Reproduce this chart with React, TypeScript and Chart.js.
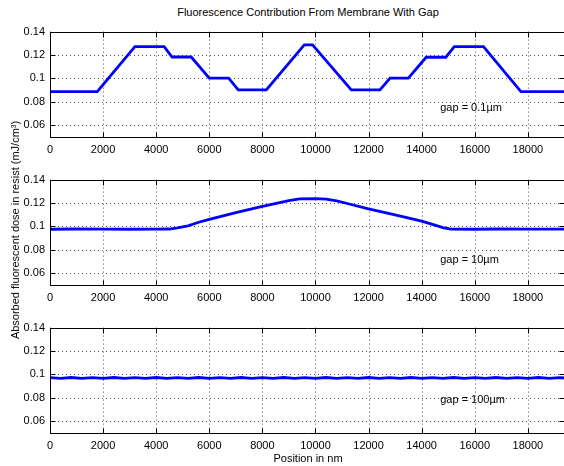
import React, { useEffect, useRef } from "react";
import { Chart, registerables } from "chart.js";

Chart.register(...registerables);

// ---------- data ----------
const xTicks = [0, 2000, 4000, 6000, 8000, 10000, 12000, 14000, 16000, 18000];
const xTickLabels = ["0", "2000", "4000", "6000", "8000", "10000", "12000", "14000", "16000", "18000"];
const yTicks = [0.06, 0.08, 0.1, 0.12, 0.14];
const yTickLabels = ["0.06", "0.08", "0.1", "0.12", "0.14"];

const X_MIN = 0;
const X_MAX = 19400;
const Y_MIN = 0.05;
const Y_MAX = 0.14;

// gap = 0.1 µm
const gap01X = [0, 1780, 3200, 4300, 4600, 5320, 6000, 6730, 7090, 8150, 9580, 9890, 11350, 12430, 12810, 13500, 14170, 14910, 15230, 16330, 17740, 19400];
const gap01Y = [0.0887, 0.0887, 0.1271, 0.1271, 0.1183, 0.1183, 0.1003, 0.1003, 0.0902, 0.0902, 0.1287, 0.1287, 0.0902, 0.0902, 0.1003, 0.1003, 0.1181, 0.1181, 0.1271, 0.1271, 0.0887, 0.0887];

// gap = 10 µm
const gap10X = [0, 1000, 2000, 3000, 4000, 4500, 4800, 5200, 5600, 6000, 7000, 8000, 9000, 9400, 10000, 10400, 10800, 11200, 12000, 13000, 14000, 14500, 14800, 15100, 16000, 17000, 18000, 19400];
const gap10Y = [0.0976, 0.0978, 0.0977, 0.0976, 0.0977, 0.0978, 0.0987, 0.1005, 0.1036, 0.1060, 0.1118, 0.1171, 0.1220, 0.1236, 0.1237, 0.1234, 0.1218, 0.1196, 0.1150, 0.1098, 0.1046, 0.1012, 0.0990, 0.0977, 0.0976, 0.0978, 0.0977, 0.0977];

// gap = 100 µm
const gap100X = [0, 400, 800, 1200, 1600, 2000, 2400, 2800, 3200, 3600, 4000, 4400, 4800, 5200, 5600, 6000, 6400, 6800, 7200, 7600, 8000, 8400, 8800, 9200, 9600, 10000, 10400, 10800, 11200, 11600, 12000, 12400, 12800, 13200, 13600, 14000, 14400, 14800, 15200, 15600, 16000, 16400, 16800, 17200, 17600, 18000, 18400, 18800, 19200, 19600];
const gap100Y = [0.0973, 0.0966, 0.0974, 0.0966, 0.0973, 0.0966, 0.0974, 0.0966, 0.0973, 0.0966, 0.0974, 0.0966, 0.0973, 0.0966, 0.0974, 0.0966, 0.0973, 0.0966, 0.0974, 0.0966, 0.0973, 0.0966, 0.0974, 0.0966, 0.0973, 0.0966, 0.0974, 0.0966, 0.0973, 0.0966, 0.0974, 0.0966, 0.0973, 0.0966, 0.0974, 0.0966, 0.0973, 0.0966, 0.0974, 0.0966, 0.0973, 0.0966, 0.0974, 0.0966, 0.0973, 0.0966, 0.0974, 0.0966, 0.0973, 0.0966];

const panelLabels = ["gap = 0.1\u00b5m", "gap = 10\u00b5m", "gap = 100\u00b5m"];
const panelLabelX = [14700, 14700, 14700];
const panelLabelY = [0.0752, 0.0717, 0.0785];

const titleText = "Fluorescence Contribution From Membrane With Gap";
const xAxisTitle = "Position in nm";
const yAxisTitle = "Absorbed fluorescent dose in resist (mJ/cm\u00b3)";

// ---------- layout ----------
const FONT = "'Liberation Sans', Arial, Helvetica, sans-serif";
const CANVAS_W = 600;
const CANVAS_H = 150;
const PAD_TOP = 6;
const AREA_H = 111;
const AREA_RIGHT = 565;
const Y_AXIS_W = 50;
const panelTops = [26, 174, 322];

const axesPlugin = {
  id: "matlabAxes",
  beforeDatasetsDraw(chart: any) {
    const { ctx, chartArea: a, scales } = chart;
    const xs = scales.x;
    const ys = scales.y;
    ctx.save();
    ctx.strokeStyle = "#555";
    ctx.lineWidth = 1;
    ctx.setLineDash([1, 3]);
    for (const v of xTicks) {
      const px = Math.round(xs.getPixelForValue(v)) + 0.5;
      ctx.beginPath();
      ctx.moveTo(px, a.top);
      ctx.lineTo(px, a.bottom);
      ctx.stroke();
    }
    for (const v of yTicks) {
      const py = Math.round(ys.getPixelForValue(v)) + 0.5;
      ctx.beginPath();
      ctx.moveTo(a.left, py);
      ctx.lineTo(a.right, py);
      ctx.stroke();
    }
    ctx.restore();
  },
  afterDatasetsDraw(chart: any) {
    const { ctx, chartArea: a, scales } = chart;
    const xs = scales.x;
    const ys = scales.y;
    const L = Math.round(a.left) + 0.5;
    const R = Math.round(a.right) - 0.5;
    const T = Math.round(a.top) + 0.5;
    const B = Math.round(a.bottom) + 0.5;
    ctx.save();
    ctx.strokeStyle = "#000";
    ctx.lineWidth = 1;
    ctx.setLineDash([]);
    ctx.beginPath();
    ctx.rect(L, T, R - L, B - T);
    ctx.stroke();
    const tl = 5;
    for (const v of xTicks) {
      const px = Math.round(xs.getPixelForValue(v)) + 0.5;
      ctx.beginPath();
      ctx.moveTo(px, B);
      ctx.lineTo(px, B - tl);
      ctx.moveTo(px, T);
      ctx.lineTo(px, T + tl);
      ctx.stroke();
    }
    for (const v of yTicks) {
      const py = Math.round(ys.getPixelForValue(v)) + 0.5;
      ctx.beginPath();
      ctx.moveTo(L, py);
      ctx.lineTo(L + tl, py);
      ctx.moveTo(R, py);
      ctx.lineTo(R - tl, py);
      ctx.stroke();
    }
    ctx.restore();
  },
};

function Panel(props: { xs: number[]; ys: number[]; idx: number }) {
  const ref = useRef<HTMLCanvasElement>(null);
  const { xs, ys, idx } = props;
  useEffect(() => {
    if (!ref.current) return;
    const textPlugin = {
      id: "panelText",
      afterDraw(chart: any) {
        const { ctx, scales } = chart;
        ctx.save();
        ctx.font = `11px ${FONT}`;
        ctx.fillStyle = "#000";
        ctx.textAlign = "left";
        ctx.textBaseline = "middle";
        ctx.fillText(
          panelLabels[idx],
          scales.x.getPixelForValue(panelLabelX[idx]),
          scales.y.getPixelForValue(panelLabelY[idx])
        );
        ctx.restore();
      },
    };
    const chart = new Chart(ref.current, {
      type: "line",
      data: {
        datasets: [
          {
            data: xs.map((x, i) => ({ x, y: ys[i] })),
            borderColor: "#0000ff",
            borderWidth: 2.8,
            pointRadius: 0,
            tension: 0,
            fill: false,
          },
        ],
      },
      options: {
        animation: false,
        responsive: false,
        maintainAspectRatio: false,
        events: [],
        layout: { padding: { top: PAD_TOP, left: 0, right: CANVAS_W - AREA_RIGHT, bottom: 0 } },
        plugins: { legend: { display: false }, tooltip: { enabled: false }, title: { display: false } },
        scales: {
          x: {
            type: "linear",
            min: X_MIN,
            max: X_MAX,
            afterBuildTicks: (s: any) => {
              s.ticks = xTicks.map((v) => ({ value: v }));
            },
            afterFit: (s: any) => {
              s.height = CANVAS_H - PAD_TOP - AREA_H;
            },
            ticks: {
              autoSkip: false,
              maxRotation: 0,
              padding: 6,
              color: "#000",
              font: { family: FONT, size: 11 },
              callback: (_v: any, i: number) => xTickLabels[i],
            },
            grid: { display: false, drawTicks: false },
            border: { display: false },
          },
          y: {
            type: "linear",
            min: Y_MIN,
            max: Y_MAX,
            afterBuildTicks: (s: any) => {
              s.ticks = yTicks.map((v) => ({ value: v }));
            },
            afterFit: (s: any) => {
              s.width = Y_AXIS_W;
            },
            ticks: {
              autoSkip: false,
              padding: 5,
              color: "#000",
              font: { family: FONT, size: 11 },
              callback: (_v: any, i: number) => yTickLabels[i],
            },
            grid: { display: false, drawTicks: false },
            border: { display: false },
          },
        },
      } as any,
      plugins: [axesPlugin, textPlugin],
    });
    return () => chart.destroy();
  }, []);
  return (
    <canvas
      ref={ref}
      width={CANVAS_W}
      height={CANVAS_H}
      style={{
        position: "absolute",
        left: 0,
        top: panelTops[idx] - PAD_TOP,
        width: CANVAS_W,
        height: CANVAS_H,
      }}
    />
  );
}

export default function App() {
  const textStyle: React.CSSProperties = {
    position: "absolute",
    fontFamily: FONT,
    fontSize: 11,
    fontWeight: 400,
    lineHeight: "14px",
    color: "#000",
    whiteSpace: "nowrap",
    textAlign: "center",
  };
  return (
    <div
      style={{
        position: "fixed",
        left: 0,
        top: 0,
        width: 564,
        height: 466,
        overflow: "hidden",
        background: "#fff",
      }}
    >
      <Panel xs={gap01X} ys={gap01Y} idx={0} />
      <Panel xs={gap10X} ys={gap10Y} idx={1} />
      <Panel xs={gap100X} ys={gap100Y} idx={2} />
      <div style={{ ...textStyle, left: 0, width: 616, top: 5 }}>{titleText}</div>
      <div style={{ ...textStyle, left: 0, width: 616, top: 451 }}>{xAxisTitle}</div>
      <div
        style={{
          ...textStyle,
          left: 15 - 150,
          width: 300,
          top: 230 - 7,
          transform: "rotate(-90deg)",
        }}
      >
        {yAxisTitle}
      </div>
    </div>
  );
}
